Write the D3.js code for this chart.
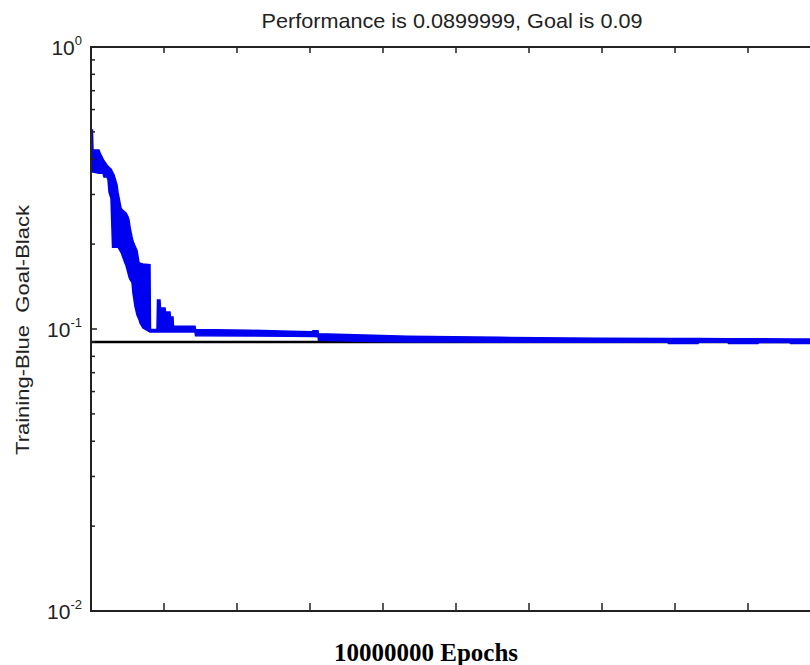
<!DOCTYPE html>
<html>
<head>
<meta charset="utf-8">
<script src="https://cdn.jsdelivr.net/npm/d3@7"></script>
<style>
  body { margin: 0; background: #fff; }
  svg { display: block; }
  text { font-family: "Liberation Sans", Arial, sans-serif; fill: #222; }
</style>
</head>
<body>
<svg id="chart" width="810" height="665"></svg>
<script>
// training record (epochs, upper and lower edge of the blue band)
const epochs = [0, 20000, 27000, 110000, 123000, 164000, 178000, 219000, 233000, 247000, 274000,
  295000, 315000, 356000, 370000, 411000, 425000, 466000, 480000, 507000, 521000,
  534000, 562000, 575000, 603000, 630000, 658000, 671000, 712000, 808000, 815000,
  904000, 911000, 945000, 952000, 1014000, 1021000, 1082000, 1089000, 1123000, 1130000,
  1425000, 1432000, 2178000, 2726000, 3027000, 3041000, 3110000, 3116000, 3863000, 4342000,
  4959000, 5603000, 6973000, 7904000, 7910000, 8315000, 8322000, 8726000, 8732000, 9137000,
  9144000, 9575000, 9582000, 10000000]
const perfHigh = [0.508, 0.508, 0.431, 0.431, 0.421, 0.401, 0.395, 0.382, 0.378, 0.374, 0.369,
  0.360, 0.352, 0.324, 0.305, 0.269, 0.265, 0.260, 0.258, 0.250, 0.243,
  0.230, 0.212, 0.205, 0.197, 0.190, 0.172, 0.171, 0.170, 0.169, 0.0995,
  0.0995, 0.1267, 0.1267, 0.1187, 0.1187, 0.1149, 0.1149, 0.1103, 0.1103, 0.1023,
  0.1023, 0.0996, 0.0990, 0.0982, 0.0978, 0.0985, 0.0985, 0.0962, 0.0950, 0.0942,
  0.0938, 0.0934, 0.0928, 0.0926, 0.0926, 0.0925, 0.0925, 0.0924, 0.0924, 0.0923,
  0.0923, 0.0922, 0.0922, 0.0921]
const perfLow = [0.360, 0.360, 0.360, 0.357, 0.357, 0.357, 0.346, 0.346, 0.338, 0.306, 0.290,
  0.195, 0.195, 0.195, 0.195, 0.187, 0.183, 0.171, 0.168, 0.158, 0.153,
  0.150, 0.146, 0.134, 0.120, 0.112, 0.108, 0.105, 0.1008, 0.0976, 0.0976,
  0.0976, 0.0976, 0.0976, 0.0976, 0.0976, 0.0976, 0.0976, 0.0976, 0.0976, 0.0976,
  0.0976, 0.0946, 0.0944, 0.0942, 0.0940, 0.0940, 0.0938, 0.0912, 0.0903, 0.0900,
  0.0899, 0.0898, 0.0897, 0.0897, 0.0888, 0.0888, 0.0897, 0.0897, 0.0888, 0.0888,
  0.0896, 0.0896, 0.0888, 0.0888]

const goal = 0.09
const performance = 0.0899999
const totalEpochs = 10000000
const xTicks = [1, 2, 3, 4, 5, 6, 7, 8, 9].map(function (k) { return k * 1000000 })
const yMajor = [0.01, 0.1, 1]
const yLabels = [['10', '-2'], ['10', '-1'], ['10', '0']]

const svg = d3.select('#chart')
const plotLeft = 91, plotTop = 47, plotBottom = 611, plotRight = 821

const x = d3.scaleLinear().domain([0, totalEpochs]).range([plotLeft, plotRight])
const y = d3.scaleLog().domain([0.01, 1]).range([plotBottom, plotTop])

// title
svg.append('text')
  .attr('x', 452).attr('y', 28)
  .attr('text-anchor', 'middle')
  .style('font-size', '21px')
  .attr('textLength', 381)
  .attr('lengthAdjust', 'spacingAndGlyphs')
  .text('Performance is ' + performance + ', Goal is ' + goal)

// goal line
svg.append('line')
  .attr('x1', x(0)).attr('x2', x(totalEpochs))
  .attr('y1', y(goal)).attr('y2', y(goal))
  .style('stroke', '#000')
  .style('stroke-width', 2.5)

// training band
const rows = epochs.map(function (e, i) { return { e: e, hi: perfHigh[i], lo: perfLow[i] } })
const band = d3.area()
  .x(function (d) { return x(d.e) })
  .y0(function (d) { return y(d.lo) })
  .y1(function (d) { return y(d.hi) })

svg.append('path')
  .datum(rows)
  .attr('d', band)
  .style('fill', '#0000f0')
  .style('stroke', '#0000f0')
  .style('stroke-width', 1.5)
  .style('stroke-linejoin', 'miter')

// frame
svg.append('path')
  .attr('d', 'M' + plotRight + ',' + plotTop + 'H' + plotLeft + 'V' + plotBottom + 'H' + plotRight)
  .style('fill', 'none')
  .style('stroke', '#222')
  .style('stroke-width', 2)

// x ticks, top and bottom, pointing inward
const tk = svg.append('g').style('stroke', '#222').style('stroke-width', 1.5)
xTicks.forEach(function (t) {
  tk.append('line').attr('x1', x(t)).attr('x2', x(t)).attr('y1', plotBottom).attr('y2', plotBottom - 8)
  tk.append('line').attr('x1', x(t)).attr('x2', x(t)).attr('y1', plotTop).attr('y2', plotTop + 6)
})

// y ticks, log minor ticks on the left axis
y.ticks().forEach(function (t) {
  const major = yMajor.indexOf(t) >= 0
  tk.append('line')
    .attr('x1', plotLeft).attr('x2', plotLeft + (major ? 6 : 4))
    .attr('y1', y(t)).attr('y2', y(t))
})

// y tick labels as 10 with exponent
yMajor.forEach(function (t, i) {
  const lab = svg.append('text')
    .attr('x', 82).attr('y', y(t) + 8)
    .attr('text-anchor', 'end')
    .style('font-size', '21px')
  lab.append('tspan').text(yLabels[i][0])
  lab.append('tspan')
    .attr('dy', -10)
    .style('font-size', '13px')
    .text(yLabels[i][1])
})

// axis labels
svg.append('text')
  .attr('transform', 'translate(29,330) rotate(-90)')
  .attr('text-anchor', 'middle')
  .style('font-size', '19px')
  .style('white-space', 'pre')
  .attr('textLength', 250)
  .attr('lengthAdjust', 'spacingAndGlyphs')
  .text('Training-Blue  Goal-Black')

svg.append('text')
  .attr('x', 426).attr('y', 661)
  .attr('text-anchor', 'middle')
  .style('font-family', '"Liberation Serif", "Times New Roman", serif')
  .style('font-weight', 'bold')
  .style('font-size', '25px')
  .style('fill', '#000')
  .text('10000000 Epochs')
</script>
</body>
</html>
